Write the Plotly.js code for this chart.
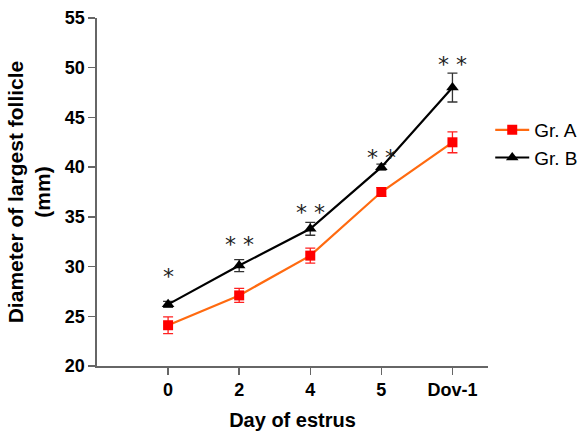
<!DOCTYPE html>
<html>
<head>
<meta charset="utf-8">
<script src="https://cdn.plot.ly/plotly-3.0.1.min.js"></script>
<style>html,body{margin:0;padding:0;background:#fff;}#chart{width:585px;height:431px;}</style>
</head>
<body>
<div id="chart"></div>
<script>
const days = ["0", "2", "4", "5", "Dov-1"];
const grA = [24.1, 27.1, 31.1, 37.5, 42.5];
const grAErr = [0.85, 0.7, 0.75, 0.45, 1.05];
const grB = [26.2, 30.1, 33.8, 40.0, 48.0];
const grBErr = [0.3, 0.6, 0.65, 0.3, 1.45];
const sigLabels = ["*", "* *", "* *", "* *", "* *"];
const sigY = [29.0, 32.2, 35.4, 41.0, 50.3];

const traceA = {
  x: days, y: grA, name: "Gr. A", type: "scatter", mode: "lines+markers",
  line: {color: "#FF6A10", width: 2.2},
  marker: {symbol: "square", size: 10, color: "#FF0000"},
  error_y: {type: "data", array: grAErr, visible: true, color: "#FF2020", thickness: 1.3, width: 5}
};
const traceB = {
  x: days, y: grB, name: "Gr. B", type: "scatter", mode: "lines+markers",
  line: {color: "#000000", width: 2.2},
  marker: {symbol: "triangle-up", size: 11, color: "#000000"},
  error_y: {type: "data", array: grBErr, visible: true, color: "#333333", thickness: 1.3, width: 5}
};

const annotations = days.map((d, i) => ({
  x: i, y: sigY[i], xref: "x", yref: "y", text: sigLabels[i], showarrow: false,
  font: {family: "DejaVu Sans, sans-serif", size: 22, color: "#222"}
}));

const layout = {
  width: 585, height: 431,
  margin: {l: 97, r: 97, t: 18, b: 65},
  paper_bgcolor: "#fff", plot_bgcolor: "#fff",
  font: {family: "Arial, Liberation Sans, sans-serif", color: "#000"},
  showlegend: true,
  legend: {xref: "container", yref: "container", x: 0.838, xanchor: "left", y: 0.666, yanchor: "middle",
           itemwidth: 34,
           font: {size: 19, color: "#000"}, bgcolor: "rgba(0,0,0,0)", tracegroupgap: 0},
  xaxis: {
    type: "category", range: [-1, 4.5],
    showline: true, linecolor: "#666", linewidth: 1.6,
    ticks: "outside", ticklen: 7, tickcolor: "#666", tickwidth: 1.4,
    showgrid: false, zeroline: false,
    tickfont: {size: 18, weight: "bold"},
    title: {text: "<b>Day of estrus</b>", font: {size: 20}, standoff: 14}
  },
  yaxis: {
    range: [20, 55], dtick: 5,
    showline: true, linecolor: "#666", linewidth: 1.6,
    ticks: "outside", ticklen: 7, tickcolor: "#666", tickwidth: 1.4,
    showgrid: false, zeroline: false,
    tickfont: {size: 18, weight: "bold"},
    title: {text: "<b>Diameter of largest follicle<br>(mm)</b>", font: {size: 21}, standoff: 8}
  },
  annotations: annotations
};

Plotly.newPlot("chart", [traceA, traceB], layout, {displayModeBar: false, staticPlot: true});
</script>
</body>
</html>
